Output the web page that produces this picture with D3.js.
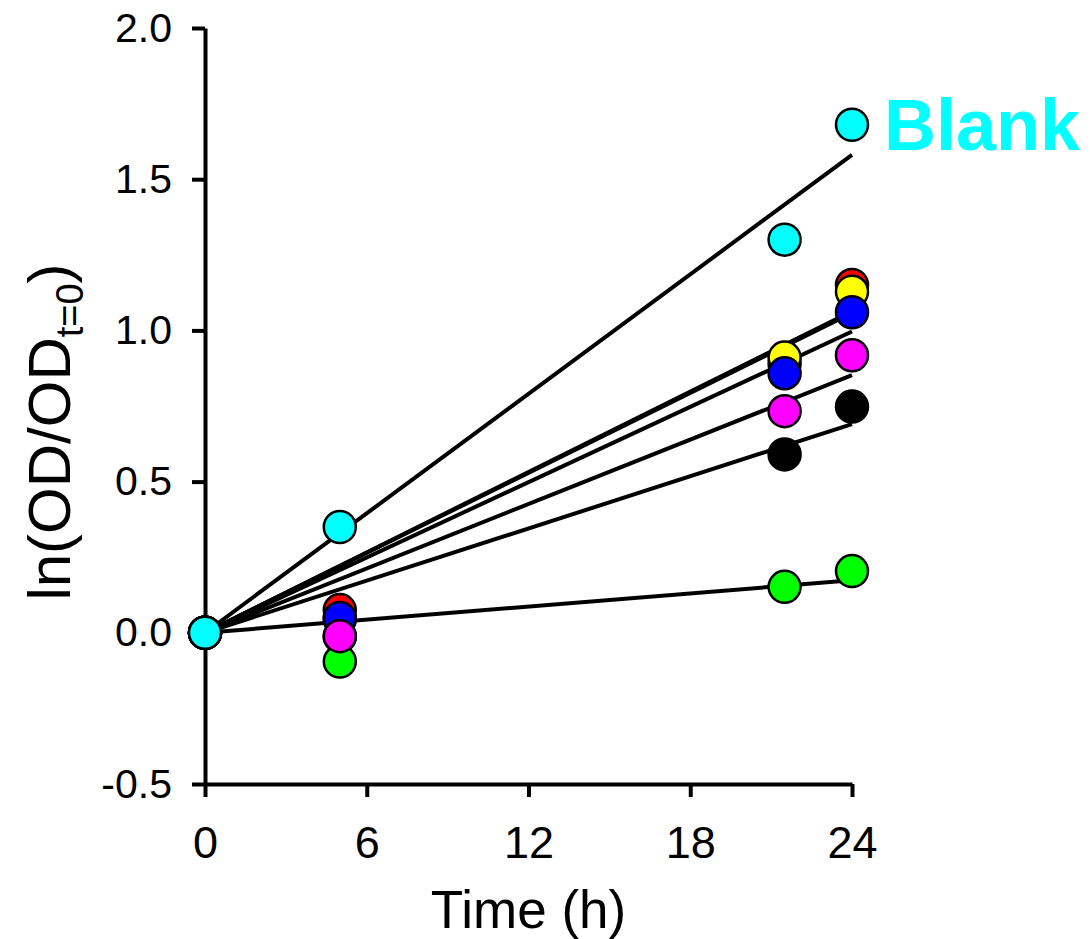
<!DOCTYPE html>
<html>
<head>
<meta charset="utf-8">
<script src="https://cdn.jsdelivr.net/npm/d3@7/dist/d3.min.js"></script>
<style>
  html, body { margin: 0; padding: 0; background: #fff; }
  svg { display: block; font-family: "Liberation Sans", Arial, sans-serif; }
</style>
</head>
<body>
<svg id="chart" width="1090" height="939"></svg>
<script>
// ---- data ----
const times = [0, 5, 21.5, 24];
const seriesNames = ["black", "green", "red", "yellow", "blue", "magenta", "Blank"];
const seriesColors = ["#000000", "#00FF00", "#FF0000", "#FFFF00", "#0000FF", "#FF00FF", "#00FFFF"];
const blackVals   = [0, -0.012, 0.59, 0.748];
const greenVals   = [0, -0.095, 0.152, 0.204];
const redVals     = [0, 0.075, 0.89, 1.15];
const yellowVals  = [0, 0.045, 0.91, 1.128];
const blueVals    = [0, 0.049, 0.858, 1.06];
const magentaVals = [0, -0.011, 0.733, 0.918];
const blankVals   = [0, 0.35, 1.30, 1.68];
const xTicks = [0, 6, 12, 18, 24];
const yTicks = [-0.5, 0, 0.5, 1.0, 1.5, 2.0];

const allVals = [blackVals, greenVals, redVals, yellowVals, blueVals, magentaVals, blankVals];
const series = seriesNames.map((n, i) => ({
  name: n, color: seriesColors[i],
  pts: times.map((t, j) => ({ t, v: allVals[i][j] }))
}));
// regression through the origin
series.forEach(s => {
  const sxy = d3.sum(s.pts, p => p.t * p.v);
  const sxx = d3.sum(s.pts, p => p.t * p.t);
  s.slope = sxy / sxx;
});

// ---- layout ----
const svg = d3.select("#chart");
const x = d3.scaleLinear().domain([0, 24]).range([205, 852]);
const y = d3.scaleLinear().domain([-0.5, 2.0]).range([784, 28]);

// regression lines
const lineGen = d3.line().x(d => x(d[0])).y(d => y(d[1]));
svg.append("g").selectAll("path").data(series).join("path")
  .attr("d", s => lineGen([[0, 0], [24, s.slope * 24]]))
  .attr("fill", "none").attr("stroke", "#000").attr("stroke-width", 4);

// axes
const yAxis = svg.append("g").attr("transform", `translate(${x(0)},0)`)
  .call(d3.axisLeft(y).tickValues(yTicks).tickSize(13).tickSizeOuter(0).tickPadding(20)
    .tickFormat(d => d.toFixed(1)));
const xAxis = svg.append("g").attr("transform", `translate(0,${y(-0.5)})`)
  .call(d3.axisBottom(x).tickValues(xTicks).tickSize(13).tickSizeOuter(0).tickPadding(29)
    .tickFormat(d => String(d)));
[yAxis, xAxis].forEach(a => {
  a.select(".domain").attr("stroke", "#000").attr("stroke-width", 4);
  a.selectAll(".tick line").attr("stroke", "#000").attr("stroke-width", 4);
  a.selectAll(".tick text").attr("fill", "#000")
    .attr("font-family", "'Liberation Sans', Arial, sans-serif");
});
yAxis.selectAll(".tick text").attr("font-size", 41);
xAxis.selectAll(".tick text").attr("font-size", 45);

// points
const gPts = svg.append("g");
series.forEach(s => {
  gPts.append("g").selectAll("circle").data(s.pts).join("circle")
    .attr("cx", d => x(d.t)).attr("cy", d => y(d.v)).attr("r", 16)
    .attr("fill", s.color).attr("stroke", "#000").attr("stroke-width", 2.5);
});

// Blank label
const blank = series.find(s => s.name === "Blank");
svg.append("text")
  .attr("x", x(24) + 32).attr("y", y(blank.pts[3].v) + 25)
  .attr("fill", "#00FFFF").attr("font-size", 72).attr("font-weight", "bold")
  .text("Blank");

// axis titles
svg.append("text")
  .attr("x", (x(0) + x(24)) / 2).attr("y", 928)
  .attr("text-anchor", "middle").attr("font-size", 53).attr("fill", "#000")
  .text("Time (h)");

const yl = svg.append("text")
  .attr("transform", `translate(70,432) rotate(-90)`)
  .attr("text-anchor", "middle").attr("font-size", 60).attr("fill", "#000");
yl.append("tspan").text("ln(OD/OD");
yl.append("tspan").attr("font-size", 38).attr("dy", 13).text("t=0");
yl.append("tspan").attr("dy", -13).text(")");
</script>
</body>
</html>
